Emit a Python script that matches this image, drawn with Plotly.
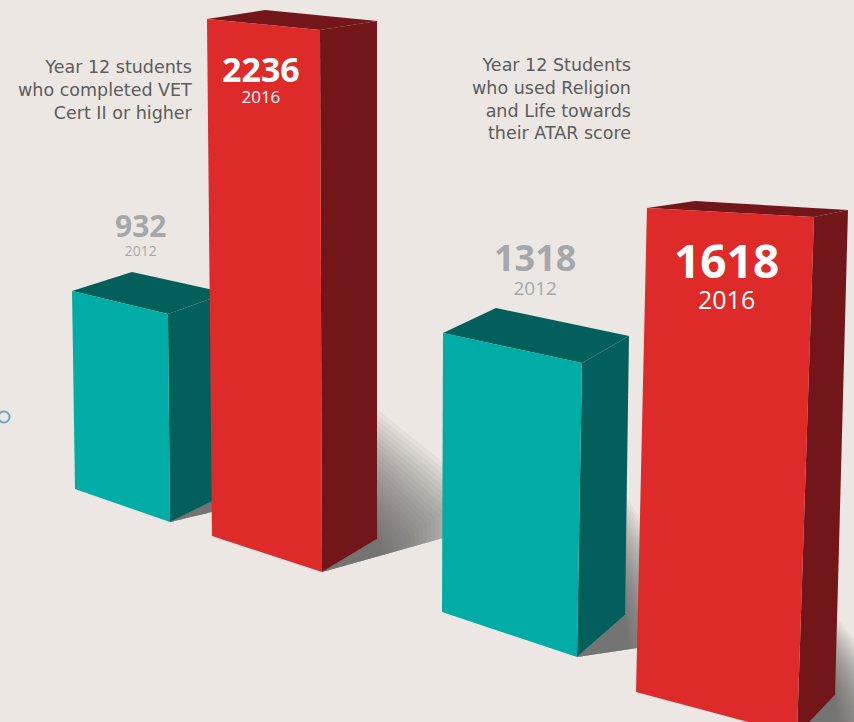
import plotly.graph_objects as go

# ---------------- data ----------------
groups = ["VET Cert II or higher", "Religion and Life towards ATAR"]
years = ["2012", "2016"]
values_2012 = [932, 1318]
values_2016 = [2236, 1618]
label_lines = [
    ["Year 12 students", "who completed VET", "Cert II or higher"],
    ["Year 12 Students", "who used Religion", "and Life towards", "their ATAR score"],
]

# ---------------- styling / layout ----------------
BG = "#ECE7E3"
FRONT = {"2012": "#00ACA6", "2016": "#DE2A29"}
DARK = {"2012": "#035F5B", "2016": "#72161A"}
LABEL_C = "#5C5C5C"
GREY_NUM = "#A6A7AA"
NUM_FONT = "Open Sans"
LABEL_FONT = "DejaVu Sans"

# perspective geometry for each bar: corners FL, FR, BR, BL as
# (bottom x, bottom y, pixels per unit of value, horizontal lean)
geom = {
    (0, "2012"): [(75, 489, 0.2124, -0.015), (170, 522, 0.2232, -0.010),
                  (227, 494, 0.2157, 0.0), (132, 470, 0.2124, 0.0)],
    (0, "2016"): [(212, 536, 0.2312, -0.0097), (322, 572, 0.2424, -0.0037),
                  (377, 539, 0.2317, 0.0), (268, 527, 0.2312, -0.0058)],
    (1, "2012"): [(442, 612, 0.2117, 0.0036), (577, 657, 0.2231, 0.017),
                  (625, 615, 0.2117, 0.0143), (494, 588, 0.2124, 0.007)],
    (1, "2016"): [(636, 692, 0.2991, 0.0227), (797, 735, 0.3202, 0.0328),
                  (835, 695, 0.2998, 0.0268), (688, 668, 0.2886, 0.015)],
}
# shadow: (width beyond back edge, floor slope, height of shaded area)
shadow_par = {
    (0, "2012"): (45, 0.24, 90),
    (0, "2016"): (100, 0.28, 130),
    (1, "2012"): (70, 0.15, 120),
    (1, "2016"): (60, 0.2, 80),
}
N_LAYERS = 24

fig = go.Figure()


def poly(pts, color):
    xs = [p[0] for p in pts] + [pts[0][0]]
    ys = [p[1] for p in pts] + [pts[0][1]]
    fig.add_trace(go.Scatter(x=xs, y=ys, mode="lines", fill="toself",
                             fillcolor=color, line=dict(width=0, color=color),
                             hoverinfo="skip", showlegend=False))


def draw_bar(gi, year, value):
    corners = geom[(gi, year)]
    bottoms = [(c[0], c[1]) for c in corners]
    tops = []
    for bx, by, s, lean in corners:
        h = value * s
        tops.append((bx + lean * h, by - h))
    FL, FR, BR, BL = range(4)
    # soft shadow on the floor behind the bar (nested translucent layers)
    W, slope, H = shadow_par[(gi, year)]
    fx, fy = bottoms[FR]
    rx, ry = bottoms[BR]
    for k in range(N_LAYERS, 0, -1):
        f = k / N_LAYERS
        xk = rx + W * f
        floor_y = fy - slope * (xk - fx)
        poly([(fx, fy), (xk, floor_y), (xk, floor_y - H * f * 0.3),
              (rx, ry - H * f), (rx, ry)],
             "rgba(80,80,80,0.05)")
    # side face
    poly([tops[FR], tops[BR], bottoms[BR], bottoms[FR]], DARK[year])
    # top face
    poly([tops[FL], tops[BL], tops[BR], tops[FR]], DARK[year])
    # front face
    poly([tops[FL], tops[FR], bottoms[FR], bottoms[FL]], FRONT[year])


for gi in range(len(groups)):
    draw_bar(gi, "2012", values_2012[gi])
    draw_bar(gi, "2016", values_2016[gi])

# small decorative icon at left edge
fig.add_trace(go.Scatter(x=[4], y=[417], mode="markers",
                         marker=dict(symbol="circle-open", size=11, color="#6FA8B8",
                                     line=dict(width=2, color="#6FA8B8")),
                         hoverinfo="skip", showlegend=False))

ann = []
# category labels
label_pos = [(195, 90), (633, 99)]
for lines, (x, y) in zip(label_lines, label_pos):
    ann.append(dict(x=x, y=y, text="<br>".join(lines), xanchor="right",
                    yanchor="middle", align="right", showarrow=False,
                    font=dict(family=LABEL_FONT, size=17.5, color=LABEL_C)))

# value + year labels, one block per bar:
# (centre x, number baseline y, number size, year size, baseline gap, colour)
val_pos = {
    (0, "2012"): (140, 237, 30, 14, 19, GREY_NUM),
    (0, "2016"): (261, 82, 34, 17, 21, "white"),
    (1, "2012"): (535, 272, 36, 19, 24, GREY_NUM),
    (1, "2016"): (726, 278, 46, 25, 31, "white"),
}
for gi in range(len(groups)):
    for year, vals in (("2012", values_2012), ("2016", values_2016)):
        x, base, ns, ys, gap, col = val_pos[(gi, year)]
        text = ("<span style='font-size:%dpx'><b>%d</b></span><br>"
                "<span style='font-size:%dpx'>%s</span>" % (ns, vals[gi], ys, year))
        ann.append(dict(x=x, y=base - 1.07 * ns, text=text, showarrow=False,
                        xanchor="center", yanchor="top", align="center",
                        borderpad=0, borderwidth=0,
                        font=dict(family=NUM_FONT, size=gap / 1.3, color=col)))

fig.update_layout(
    width=854, height=722,
    margin=dict(l=0, r=0, t=0, b=0),
    paper_bgcolor=BG, plot_bgcolor=BG,
    xaxis=dict(range=[0, 854], visible=False, fixedrange=True),
    yaxis=dict(range=[722, 0], visible=False, fixedrange=True),
    annotations=ann,
    showlegend=False,
)

fig.write_html("out.html",
               config={"displayModeBar": False, "staticPlot": True},
               post_script="document.body.style.margin='0px';"
                           "document.body.style.overflow='hidden';")
